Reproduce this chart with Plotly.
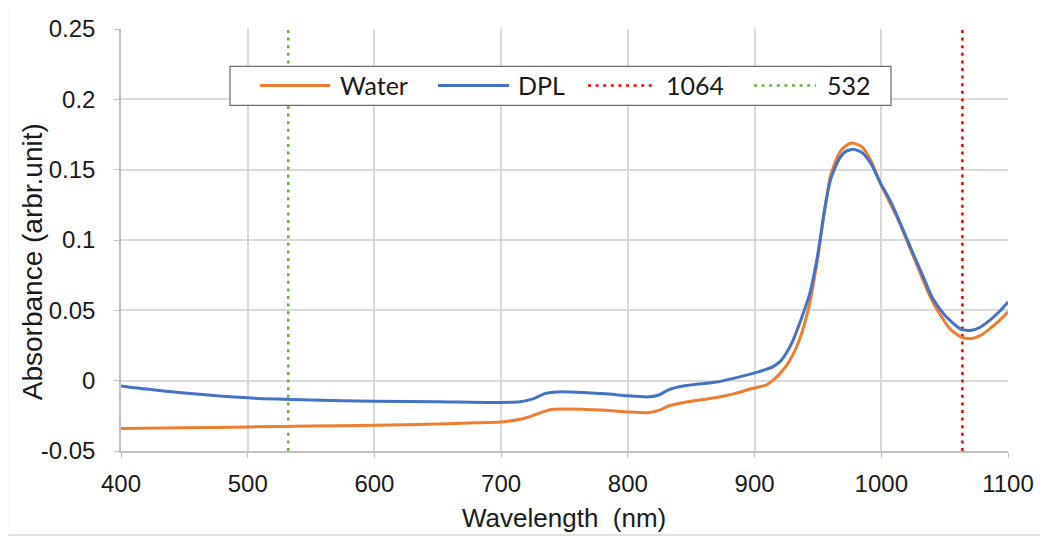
import plotly.graph_objects as go

# ---- data ----
dpl_wl = [400, 420, 450, 500, 550, 600, 650, 700, 715, 725, 735, 745, 765, 785, 800, 817, 825, 832, 846,
          870, 885, 898, 909, 915, 920, 925, 930, 935.5, 943.6, 950, 955, 960, 967, 972, 978, 985, 992,
          999, 1007, 1014, 1025, 1033, 1040, 1047, 1054, 1063, 1071, 1078, 1085, 1093, 1100]
dpl_abs = [-0.0037, -0.0060, -0.0088, -0.0122, -0.0137, -0.0146, -0.0150, -0.0155, -0.0150, -0.0130,
           -0.0090, -0.0080, -0.0084, -0.0095, -0.0108, -0.0115, -0.0100, -0.0065, -0.0035,
           -0.0010, 0.0020, 0.0050, 0.0080, 0.0102, 0.0135, 0.0195, 0.0280, 0.0406, 0.0620, 0.0904,
           0.1200, 0.1430, 0.1580, 0.1630, 0.1645, 0.1620, 0.1540, 0.1410, 0.1280, 0.1140, 0.0906,
           0.0740, 0.0595, 0.0500, 0.0430, 0.0365, 0.0358, 0.0380, 0.0425, 0.0490, 0.0560]

water_wl = [400, 450, 500, 550, 600, 650, 680, 700, 712, 722, 732, 740, 764, 785, 800, 817, 825, 832, 846,
            870, 885, 898, 909, 915, 920, 925, 930, 935, 943, 950, 955, 960, 967, 972, 977, 985, 992, 999,
            1014, 1025, 1040, 1054, 1063, 1071, 1078, 1085, 1093, 1100]
water_abs = [-0.0340, -0.0335, -0.0329, -0.0323, -0.0317, -0.0308, -0.0300, -0.0293, -0.0280, -0.0258,
             -0.0225, -0.0205, -0.0203, -0.0212, -0.0222, -0.0227, -0.0210, -0.0180, -0.0151,
             -0.0120, -0.0090, -0.0056, -0.0032, 0.0005, 0.0050, 0.0105, 0.0180, 0.0280, 0.0530, 0.0880,
             0.1200, 0.1460, 0.1620, 0.1670, 0.1690, 0.1660, 0.1560, 0.1410, 0.1130, 0.0890, 0.0570,
             0.0370, 0.0310, 0.0299, 0.0320, 0.0365, 0.0425, 0.0489]

laser_lines = [1064, 532]
y_range = [-0.05, 0.25]
x_ticks = [400, 500, 600, 700, 800, 900, 1000, 1100]
y_ticks = [-0.05, 0, 0.05, 0.1, 0.15, 0.2, 0.25]
y_tick_text = ["-0.05", "0", "0.05", "0.1", "0.15", "0.2", "0.25"]
x_title = "Wavelength  (nm)"
y_title = "Absorbance (arbr.unit)"

ORANGE = "#ed7d31"
BLUE = "#4472c4"
RED = "#ff0000"
GREEN = "#70ad47"
DOT = "3px,4.6px"

fig = go.Figure()
fig.add_trace(go.Scatter(x=laser_lines[1:2] * 2, y=y_range, mode="lines", name="532",
                         line=dict(color=GREEN, width=2.6, dash=DOT), showlegend=False))
fig.add_trace(go.Scatter(x=laser_lines[0:1] * 2, y=y_range, mode="lines", name="1064",
                         line=dict(color=RED, width=2.6, dash=DOT), showlegend=False))
fig.add_trace(go.Scatter(x=water_wl, y=water_abs, mode="lines", name="Water",
                         line=dict(color=ORANGE, width=3, shape="spline", smoothing=0.6), showlegend=False))
fig.add_trace(go.Scatter(x=dpl_wl, y=dpl_abs, mode="lines", name="DPL",
                         line=dict(color=BLUE, width=3, shape="spline", smoothing=0.6), showlegend=False))

# page body has an 8px margin -> figure is offset by (8, 8) in the window
OFF = 8
W, H = 1048 - OFF, 537 - OFF
# plot area in window pixels
L, R, T, B = 121, 1008, 28.5, 451
def px(x):
    return (x - L) / (R - L)
def py(y):
    return (B - y) / (B - T)

shapes = [
    # outer frame
    dict(type="rect", xref="paper", yref="paper", x0=px(7.5), x1=px(1060), y0=py(535), y1=py(6),
         line=dict(color="#d9d9d9", width=1.5), layer="below"),
    # legend box
    dict(type="rect", xref="paper", yref="paper", x0=px(230), x1=px(891), y0=py(105), y1=py(66),
         line=dict(color="#6b6b6b", width=1.2), fillcolor="white", layer="above"),
]
legend_items = [("Water", ORANGE, "solid", 260, 330, 338),
                ("DPL", BLUE, "solid", 438, 509, 516),
                ("1064", RED, DOT, 588, 652, 664),
                ("532", GREEN, DOT, 754, 816, 825)]
annotations = []
ly = 85
for name, col, dash, x0, x1, tx in legend_items:
    shapes.append(dict(type="line", xref="paper", yref="paper", x0=px(x0), x1=px(x1), y0=py(ly), y1=py(ly),
                       line=dict(color=col, width=3 if dash == "solid" else 2.6, dash=dash), layer="above"))
    annotations.append(dict(xref="paper", yref="paper", x=px(tx), y=py(ly), text=name, showarrow=False,
                            xanchor="left", yanchor="middle",
                            font=dict(family="Lato, Liberation Sans, Arial", size=25, color="#1a1a1a")))

# axis titles
annotations.append(dict(xref="paper", yref="paper", x=px(564), y=py(518), text=x_title, showarrow=False,
                        xanchor="center", yanchor="middle", font=dict(size=26, color="#1a1a1a")))
annotations.append(dict(xref="paper", yref="paper", x=px(32.5), y=py(261.5), text=y_title, showarrow=False,
                        xanchor="center", yanchor="middle", textangle=-90,
                        font=dict(size=28, color="#1a1a1a")))

fig.update_layout(
    width=W, height=H,
    margin=dict(l=L - OFF, r=W - (R - OFF), t=T - OFF, b=H - (B - OFF), autoexpand=False),
    paper_bgcolor="white", plot_bgcolor="white",
    font=dict(family="Liberation Sans, Arial", color="#1a1a1a"),
    shapes=shapes, annotations=annotations,
    showlegend=False,
)
fig.update_xaxes(range=[400, 1100], tickvals=x_ticks, showgrid=True, gridcolor="#d9d9d9", gridwidth=1.5,
                 showline=True, linecolor="#bfbfbf", linewidth=1.5, ticks="outside", ticklen=5,
                 tickcolor="#bfbfbf", tickfont=dict(size=24), zeroline=False, automargin=False,
                 ticklabelstandoff=5)
fig.update_yaxes(range=y_range, tickvals=y_ticks, ticktext=y_tick_text, showgrid=True, gridcolor="#d9d9d9",
                 gridwidth=1.5, showline=True, linecolor="#bfbfbf", linewidth=1.5, ticks="outside", ticklen=5,
                 tickcolor="#bfbfbf", tickfont=dict(size=24), zeroline=False, ticklabelstandoff=14,
                 automargin=False)

fig.write_html("out.html")
